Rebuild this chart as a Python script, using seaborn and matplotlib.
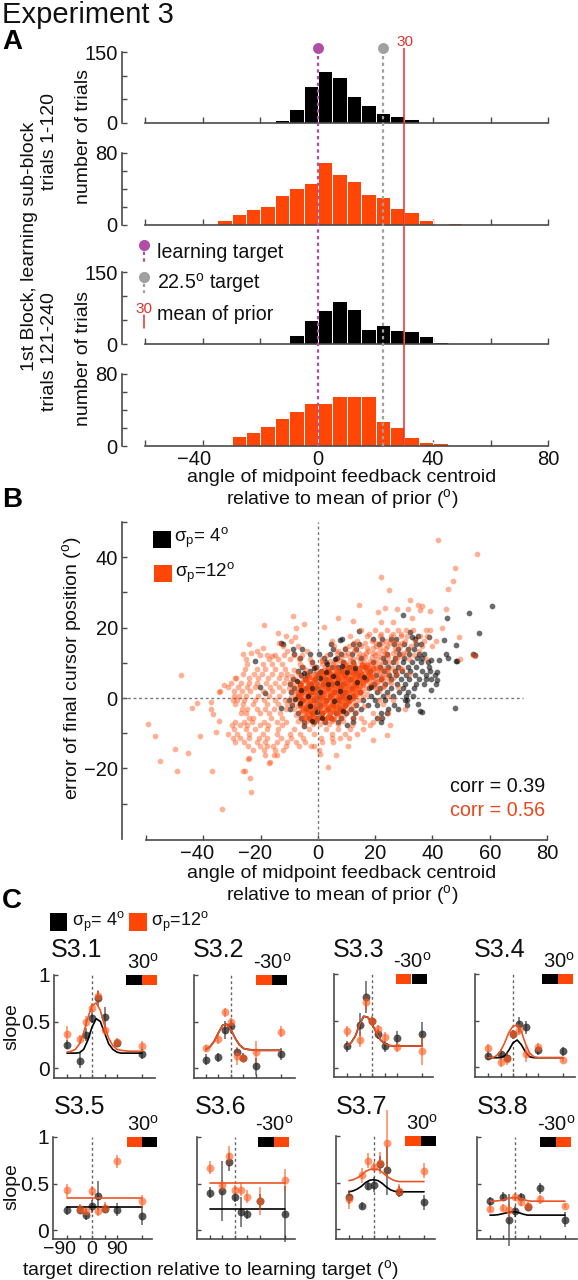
import matplotlib
matplotlib.use("Agg")
import matplotlib.pyplot as plt
from matplotlib.patches import Rectangle
from matplotlib.transforms import ScaledTranslation
import numpy as np
import pandas as pd
import seaborn as sns

sns.set_theme(style="ticks")
plt.rcParams["font.family"] = ["Liberation Sans", "DejaVu Sans"]
plt.rcParams["mathtext.fontset"] = "custom"
plt.rcParams["mathtext.rm"] = "Liberation Sans"
plt.rcParams["mathtext.default"] = "rm"
plt.rcParams["axes.unicode_minus"] = True

W, H = 578, 1280
BLACK = "#000000"
ORANGE = "#ff4606"
LINE_OR = "#ea5424"
RED = "#e2322c"
PURPLE = "#b04ea6"
GRAY = "#a0a0a0"
AXC = "#4a4a4a"

# ---------- Panel A histograms ----------
BIN_EDGES = list(range(-60, 85, 5))
A1_BINS = [-15, -10, -5, 0, 5, 10, 15, 20, 25, 30]
A1_COUNTS = [7, 29, 78, 110, 98, 58, 38, 21, 15, 8]
A2_BINS = [-40, -35, -30, -25, -20, -15, -10, -5, 0, 5, 10, 15, 20, 25, 30, 35, 45]
A2_COUNTS = [1.5, 6, 12, 18, 21, 33, 41, 47, 70, 57, 49, 34, 31, 19, 14, 6, 2]
A3_BINS = [-15, -10, -5, 0, 5, 10, 15, 20, 25, 30, 35, 40, 45]
A3_COUNTS = [1, 19, 50, 71, 90, 72, 32, 39, 30, 28, 17, 4, 3]
A4_BINS = [-60, -50, -45, -40, -35, -30, -25, -20, -15, -10, -5, 0, 5, 10, 15, 20, 25, 30, 35, 40]
A4_COUNTS = [1, 1.5, 1.5, 1.5, 1.5, 11.5, 16, 22, 31, 39, 48, 48, 56, 55, 55, 28, 21, 10, 4, 3.5]
LEARNING_TARGET = 0
GRAY_TARGET = 22.5
PRIOR_MEAN = 30

ORANGE_TAIL = [(42,45),(55.5,41),(48,37),(47.3,33.3),(45.6,31),(22.2,34.4),(24.9,30.6),(14.4,26.4),(32,27.8),(35,26.5),
 (36.3,26.2),(31.6,25.4),(27.5,25.4),(23.5,25.6),(21,24.5),(35.7,24.9),(39,24.6),(44.6,25.4),(32.8,22.6),(7.2,22.6),
 (12.4,21.8),(22,21.6),(26.4,21.6),(-8.7,23.2),(-4.8,21.1),(-18.8,20.8),(-7.8,20),(2.2,20.2),(-13.8,18.6),(-8,17.3),
 (-24.2,15.3),(-19,14.2),(-13.7,15.7),(-26.3,12.5),(-23.3,12.8),(-20.3,12.3),(-16,12),(-47.7,6.4),(-29,5.7),(-32.7,3.7),
 (-34.4,1.7),(-59.4,-7.4),(-56.9,-10.8),(-49.8,-14.4),(-45.5,-15.6),(-55,-17.9),(-49.2,-20.7),(-36.9,-20.6),(-33.4,-31.5),
 (-23.3,-26.8),(-23.6,-22.7),(-26.2,-20.8),(-25.6,-20.6),(-24.4,-17.3),(-23.9,-17.1),(-16.9,-18.5),(-16.6,-18.3),(3.4,-19.7),(0.8,-15.8),(10.5,-13.7),
 (19.1,-12),(24,-10.6),(-1.5,-13.7),(-41,-10.8),(-35.7,-9.6),(-34.4,-6.4),(-44,-2.7),(-42.2,-1.3),(-37.4,-1.2),
 (-37.4,-3.1),(-36.7,-4.6),(49.2,17.3),(43.3,19.9),(49.7,11.2),(54.3,12.3),(55,12)]
OR_MID_Y = [19.4, 17.6, 16.2, 14.7, 13.3, 12.1, 11.0, -8.9, -10.2, -11.3, -12.4, -13.6, -14.8, -16.2]
OR_MID_X = [
 [15.2, 19.8, 24.1, 27.9, 30.8, 33.3, 37.9, 39.1],
 [-11.2, 11.3, 17.1, 21.6, 25.4, 28.9, 31.2, 35.6, 38.2],
 [-9.3, 4.8, 13.6, 18.8, 23.7, 26.2, 30.4, 33.8, 37.1, 41.2],
 [-12.1, -6.8, 5.6, 10.8, 15.2, 20.4, 24.3, 28.8, 32.6, 36.2, 39.8],
 [-21.4, -10.8, -3.9, 7.2, 12.6, 17.4, 22.8, 27.4, 31.1, 35.2],
 [-17.8, -15.1, -11.9, -8.4, -5.7, 3.2, 9.6, 15.6, 19.8, 24.1, 29.6, 33.4],
 [-25.2, -17.1, -13.8, -9.9, -6.6, -2.9, 1.4, 6.2, 12.2, 20.6, 26.8, 31.8, 37.6],
 [-29.2, -25.1, -21.8, -17.6, -13.9, -8.2, -3.2, 2.8, 7.1, 11.3, 15.7],
 [-31.3, -28.4, -23.9, -19.2, -14.4, -9.8, -6.2, -1.2, 5.1, 9.4, 13.8],
 [-29.8, -27.1, -24.2, -20.6, -17.9, -12.7, -9.3, -5.1, 1.1, 5.1, 7.6, 10.8],
 [-28.9, -25.8, -21.1, -18.4, -14.1, -10.9, -7.8, -4.4, 1.6, 5.2],
 [-24.4, -20.2, -17.8, -15.6, -11.2, -6.6, -2.3],
 [-22.6, -18.8, -15.1, -12.2, 0.4],
 [-18.4, -15.2, -14.4, 6.2],
]
OR_WING_Y = [9.6, 8.1, 6.9, 5.6, 4.4, 3.1, 1.9, 0.6, -0.7, -1.8, -3.1, -4.3, -5.6, -6.7, -7.8]
OR_WING_X = [
 [-24.9, -19.2, -15.9, -12.4],
 [-25.3, -21.2, -18.3, -14.8, -11.4, 24.2, 29.2],
 [-26.2, -22.4, -19.6, -16.1, -12.9, -10.8, 23.8, 27.6, 31.9],
 [-28.6, -24.1, -20.8, -17.4, -13.6, -11.1, 22.4, 26.2],
 [-30.2, -26.7, -23.9, -21.2, -18.2, -14.9, -11.9, 25.4],
 [-31.4, -27.8, -24.8, -22.1, -16.8, -13.4, 22.8, 28.1],
 [-34.1, -29.2, -26.6, -23.7, -19.2, -15.9, -12.1, 21.4],
 [-29.4, -27.4, -25.1, -20.9, -17.2, -13.4, 24.6],
 [-29.8, -28.2, -25.8, -21.8, -18.8, -15.1, -11.6, 21.2, 26.1],
 [-28.8, -26.2, -22.6, -17.9, -13.9, -10.8, 22.9],
 [-26.4, -24.9, -21.4, -18.6, -15.4, -11.2, 30.4],
 [-26.9, -25.2, -20.1, -16.9, -13.1, 19.4, 24.4],
 [-24.2, -22.7, -16.4, -12.6, 14.9, 21.2],
 [-29.1, -25.9, -23.1, -18.8, -14.4, -11.2, 16.2, 19.2],
 [-30.1, -27.2, -24.6, -20.1, -17.3, -12.4, 11.8, 18.2, 25.2],
]
# orange points that lie over the black cloud, upper right of the centre
OR_RIGHT_Y = [18.2, 15.6, 14.2, 12.8, 11.6, 10.2, 8.6, 7.4, 6.1, 4.8, 3.4]
OR_RIGHT_X = [
 [17.8, 22.2, 26.4, 29.1],
 [12.6, 16.4, 20.2, 22.4, 25.1, 27.6, 29.4],
 [9.4, 13.1, 17.2, 19.4, 21.8, 23.9, 26.8],
 [6.8, 10.6, 14.4, 16.9, 19.1, 21.1, 23.4, 26.1, 29.8],
 [8.2, 11.1, 13.9, 16.6, 18.8, 21.9, 24.6, 28.1],
 [5.9, 9.2, 16.1, 19.6, 22.6, 24.9, 27.2],
 [19.9, 21.6, 23.4, 25.8, 28.6],
 [20.4, 22.1, 24.4, 26.9],
 [19.2, 21.9, 23.9],
 [19.4, 20.9, 22.6, 24.8],
 [18.1, 20.2, 23.1],
]
OR_CORE_Y = [10.6, 9.7, 8.9, 8.0, 7.2, 6.3, 5.5, 4.6, 3.8, 2.9, 2.1, 1.2, 0.4, -0.5, -1.3, -2.2, -3.0, -3.9, -4.7, -5.6, -6.5, -7.4]
OR_CORE_X = [
 [1.4, 4.1, 7.8, 11.2, 14.6, 18.1],
 [-6.1, -2.2, 1.6, 5.3, 8.8, 12.1, 15.4, 18.6, 21.4],
 [-5.2, -1.1, 2.6, 5.9, 9.4, 11.8, 14.9, 17.6, 20.3],
 [-8.4, -4.1, -0.8, 2.2, 4.8, 7.6, 10.3, 12.9, 15.8, 18.2, 21.2],
 [-7.1, -3.3, 0.4, 3.1, 5.9, 8.4, 10.9, 13.6, 16.4, 19.1],
 [-9.2, -5.8, -2.6, 0.9, 3.6, 6.2, 8.8, 11.4, 13.8, 16.2, 18.9, 22.1],
 [-8.1, -4.9, -1.8, 1.2, 4.2, 6.9, 9.3, 12.1, 14.4, 17.1, 19.8],
 [-9.8, -6.9, -3.9, -0.9, 2.1, 4.6, 7.4, 9.9, 12.6, 15.2, 17.8, 20.6],
 [-8.8, -5.9, -2.9, 0.1, 2.9, 5.4, 8.1, 10.6, 13.2, 15.9, 18.6],
 [-10.2, -7.4, -4.4, -1.6, 1.1, 3.7, 6.2, 8.9, 11.4, 14.1, 16.8, 19.9],
 [-9.1, -6.2, -3.4, -0.6, 2.4, 4.9, 7.5, 10.1, 12.8, 15.4],
 [-8.1, -5.1, -2.4, 0.3, 3.1, 5.8, 8.4, 11.2, 13.9, 17.1],
 [-9.4, -6.6, -3.8, -1.1, 1.6, 4.3, 6.9, 9.6, 12.3, 15.6],
 [-7.9, -4.9, -2.1, 0.8, 3.4, 6.1, 8.8, 11.3, 14.2],
 [-8.9, -6.1, -3.1, -0.2, 2.6, 5.2, 7.9, 10.4, 13.1],
 [-7.1, -4.2, -1.4, 1.4, 4.2, 6.8, 9.3, 12.2, 16.1],
 [-8.2, -5.4, -2.6, 0.3, 3.2, 5.9, 8.6, 11.1],
 [-6.4, -3.6, -0.9, 1.9, 4.8, 7.4, 10.1, 13.4],
 [-7.6, -4.7, -1.9, 1.1, 3.9, 6.6, 9.1],
 [-5.6, -2.8, 0.2, 3.1, 5.8, 8.2, 12.2],
 [-6.8, -3.9, -1.1, 2.1, 4.9, 8.6],
 [-4.9, -1.8, 0.9, 3.9, 7.1],
]
# tightly packed centre of the orange cloud
OR_DENSE_Y = [9.4, 8.4, 7.5, 6.7, 5.9, 5.0, 4.2, 3.3, 2.5, 1.6, 0.8, -0.1, -0.9, -1.8, -2.6, -3.5, -4.4, -5.3, -6.1]
OR_DENSE_X = [
 [9.8, 12.6, 15.3, 17.2],
 [3.4, 6.4, 9.1, 11.7, 14.2, 16.8, 19.1],
 [1.1, 3.9, 6.6, 9.2, 11.9, 14.8, 17.4],
 [-0.9, 1.7, 4.4, 7.1, 9.6, 12.2, 14.9, 17.7],
 [-3.1, -0.4, 2.3, 5.1, 7.7, 10.1, 12.8, 15.4, 18.1],
 [-4.2, -1.4, 1.4, 3.9, 6.4, 9.1, 11.6, 14.3, 16.6],
 [-5.9, -3.1, -0.3, 2.6, 5.2, 7.9, 10.4, 13.1, 15.9],
 [-6.4, -3.6, -1.1, 1.6, 4.3, 7.1, 9.5, 12.2, 14.8],
 [-5.4, -2.7, 0.1, 2.9, 5.6, 8.2, 10.7, 13.4],
 [-6.8, -4.1, -1.4, 1.4, 4.2, 6.8, 9.3, 11.9, 14.7],
 [-5.9, -3.2, -0.4, 2.3, 5.1, 7.7, 10.2, 12.8],
 [-6.6, -3.9, -1.2, 1.6, 4.2, 6.9, 9.4, 12.1],
 [-5.2, -2.4, 0.3, 2.9, 5.6, 8.3, 10.9],
 [-6.1, -3.3, -0.6, 2.1, 4.8, 7.4, 9.9],
 [-4.6, -1.9, 0.9, 3.6, 6.2, 8.8],
 [-5.3, -2.6, 0.2, 2.8, 5.4, 8.1],
 [-3.9, -1.2, 1.6, 4.3, 6.9],
 [-4.6, -1.8, 1.1, 3.7],
 [-2.9, -0.4, 2.4, 5.2],
]
BLACK_TAIL = [(60.7,26),(52.9,24.2),(56.2,18.5),(45.2,22.6),(44.1,16.4),(48.3,15.1),(44.8,12.6),(45.6,11.4),(48.7,10.6),
 (48.2,10.5),(54,12.4),(54.9,12.1),(47.8,-2.7),(29.7,23.7),(14.5,18.9),(8.4,16.9),(7.8,16.5),(-12.8,15.6),(-12.2,15.4),(-21.9,10.5),
 (-20.3,3.1),(-18.6,1.5),(-12.8,-2.7),(-4.7,-8),(10.3,-7.8),(35.7,-3.8),(36.4,-4),(35,-1.6),(39.5,2.4),(41.5,7.4),(41.7,5),
 (42.3,10.7),(39.5,10.9),(38.7,17.3),(35,17.5),(32.2,18.8),(33,17.2)]
BK_Y = [16.8, 15.2, 13.9, 12.6, 11.3, 10.1, 8.9, 7.7, 6.5, 5.3, 4.1, 2.9, 1.7, 0.5, -0.7, -1.9, -3.1, -4.3, -5.6, -6.9]
BK_X = [
 [19.2, 22.4, 25.6, 27.4, 33.9],
 [4.6, 12.2, 14.4, 21.3, 26.7, 30.1, 34.1, 36.1],
 [-8.6, -5.4, 5.2, 9.6, 13.4, 27.9, 31.4, 33.7],
 [-8.2, -2.9, 0.4, 4.4, 8.1, 11.8, 24.1, 28.2, 31.9, 35.4, 37.1],
 [-6.1, 2.2, 6.6, 15.1, 22.6, 27.1, 30.2, 34.6, 36.4],
 [-1.9, 2.9, 8.9, 12.4, 19.2, 23.4, 26.2, 29.6, 32.8, 35.9, 38.4],
 [-5.4, -0.6, 4.8, 7.2, 10.8, 16.4, 21.8, 24.6, 28.1, 31.4, 34.2, 38.9],
 [-6.9, -2.8, 1.2, 3.6, 8.2, 12.9, 18.2, 23.1, 26.8, 29.4, 32.1, 36.2, 39.2],
 [-5.9, -3.9, 0.1, 5.9, 9.4, 14.2, 20.4, 24.9, 27.4, 30.8, 33.9, 37.8, 40.8],
 [-8.6, -4.6, -1.1, 2.8, 6.9, 11.2, 16.9, 22.2, 25.6, 29.1, 31.9, 35.2, 37.6, 39.4],
 [-9.9, -6.4, -2.4, 1.9, 5.1, 8.9, 13.4, 19.6, 23.4, 27.8, 30.4, 34.1, 36.9, 41.2],
 [-8.2, -4.2, -0.4, 3.4, 7.6, 11.9, 17.8, 21.8, 25.4, 29.6, 33.4],
 [-9.4, -5.9, -2.1, 1.1, 5.8, 9.4, 14.6, 20.8, 24.2, 28.4, 31.6],
 [-7.1, -3.4, 0.4, 4.4, 8.4, 12.2, 18.4, 22.6, 26.1, 30.6, 33.2],
 [-10.2, -5.4, -1.2, 2.9, 7.1, 10.6, 15.9, 19.9, 23.4, 31.2, 30.4],
 [-8.9, -6.4, -2.6, 0.8, 5.4, 9.6, 13.4, 17.4, 20.6, 26.6, 31.1],
 [-9.6, -4.1, -0.6, 3.6, 7.9, 11.4, 15.2, 24.4, 27.9],
 [-6.9, -2.1, 1.4, 6.2, 9.9, 13.1, 21.9, 24.1],
 [-5.8, -3.1, -0.4, 4.6, 8.2, 12.2, 20.6, 22.4],
 [-4.9, -1.4, 2.6, 6.9, 12.4, 22.2],
]
# dark points that show through on top of the orange centre
FLECK_PTS = [(3.2,9.8),(6.1,11.2),(8.4,9.1),(-4.8,7.1),(-1.2,8.4),(2.8,7.4),(5.4,6.2),(-7.4,4.9),(0.6,5.6),(3.4,3.9),
 (-5.8,2.2),(-2.1,2.9),(-3.4,0.6),(6.8,4.4),(10.2,7.3),(12.8,8.6),(0.9,1.6),(-6.2,-1.4),(-2.6,-2.4),(-0.4,-4.1),
 (1.6,-5.8),(7.9,2.1),(5.6,-0.9),(10.8,0.4),(13.6,4.6),(16.2,5.9),(18.4,3.2),(8.9,-3.6),(-8.1,-0.4),(-1.9,-6.4)]

# ---------- Panel C slopes ----------
DIRECTIONS = [-90, -45, -22.5, 0, 22.5, 45, 90, 180]
CURVE_X = [-90, -75, -60, -45, -30, -15, 0, 15, 30, 45, 60, 75, 90, 105, 120, 135, 150, 165, 180]
FLAT_X = [-90, 180]

S31_OR = [.37, .31, .50, .65, .77, .41, .275, .24]
S31_OR_E = [.08, .05, .06, .05, .07, .05, .05, .05]
S31_BK = [.25, .08, .36, .54, .75, .55, .27, .15]
S31_BK_E = [.05, .08, .07, .06, .08, .11, .04, .05]
S31_OR_C = [.17, .18, .20, .26, .38, .54, .67, .70, .62, .46, .32, .24, .20, .19, .185, .18, .18, .18, .18]
S31_BK_C = [.16, .16, .16, .165, .20, .30, .44, .53, .50, .38, .26, .20, .17, .16, .16, .16, .16, .16, .16]

S32_OR = [.21, .31, .60, .50, .13, .11, .17, .39]
S32_OR_E = [.04, .05, .05, .04, .10, .05, .12, .06]
S32_BK = [.09, .115, .41, .45, .17, .11, .02, .15]
S32_BK_E = [.06, .05, .10, .07, .04, .05, .09, .06]
S32_OR_C = [.20, .23, .29, .38, .46, .47, .41, .32, .25, .21, .20, .195, .19, .19, .19, .19, .19, .19, .19]
S32_BK_C = S32_OR_C

S33_OR = [.39, .30, .70, .50, .42, .33, .22, .18]
S33_OR_E = [.06, .08, .08, .05, .04, .05, .05, .15]
S33_BK = [.23, .46, .76, .50, .36, .23, .32, .36]
S33_BK_E = [.06, .12, .17, .04, .05, .06, .07, .13]
S33_OR_C = [.24, .27, .34, .46, .55, .54, .47, .38, .30, .26, .24, .235, .235, .235, .235, .235, .235, .235, .235]
S33_BK_C = S33_OR_C

S34_OR = [.20, .05, .09, .35, .40, .14, .21, .08]
S34_OR_E = [.05, .05, .07, .05, .06, .09, .05, .03]
S34_BK = [.12, .14, .10, .35, .46, .43, .18, .17]
S34_BK_E = [.05, .05, .05, .05, .08, .07, .05, .05]
S34_OR_C = [.10, .10, .12, .17, .26, .37, .44, .45, .38, .25, .15, .11, .10, .10, .10, .10, .10, .10, .10]
S34_BK_C = [.10, .10, .10, .10, .12, .18, .26, .29, .24, .16, .11, .10, .10, .10, .10, .10, .10, .10, .10]

S35_OR = [.43, .225, .20, .42, .20, .24, .74, .31]
S35_OR_E = [.07, .05, .04, .05, .05, .06, .07, .07]
S35_BK = [.21, .22, .165, .255, .37, .23, .22, .15]
S35_BK_E = [.05, .05, .06, .07, .16, .05, .07, .10]
S35_OR_C = [.34, .34]
S35_BK_C = [.245, .245]

S36_OR = [.67, .48, .80, .435, .435, .36, .31, .535]
S36_OR_E = [.07, .06, .10, .05, .07, .07, .15, .12]
S36_BK = [.40, .42, .73, .35, .19, .17, .31, .17]
S36_BK_E = [.06, .32, .10, .05, .16, .05, .08, .30]
S36_OR_C = [.505, .505]
S36_BK_C = [.23, .23]

S37_OR = [.32, .58, .735, .67, .71, .92, .41, .625]
S37_OR_E = [.10, .08, .08, .05, .12, .36, .07, .08]
S37_BK = [.34, .25, .465, .475, .70, .63, .40, .285]
S37_BK_E = [.07, .04, .05, .08, .08, .26, .06, .08]
S37_OR_C = [.52, .53, .55, .58, .62, .64, .645, .64, .61, .57, .54, .52, .51, .51, .51, .51, .51, .51, .51]
S37_BK_C = [.40, .41, .43, .46, .50, .525, .53, .52, .49, .45, .42, .405, .40, .40, .40, .40, .40, .40, .40]

S38_OR = [.23, .24, .21, .36, .30, .26, .33, .26]
S38_OR_E = [.04, .04, .08, .04, .04, .04, .05, .02]
S38_BK = [.31, .36, .11, .20, .36, .25, .45, .11]
S38_BK_E = [.05, .05, .28, .06, .04, .04, .06, .08]
S38_OR_C = [.31, .31, .315, .32, .335, .345, .35, .345, .33, .315, .31, .31, .31, .31, .31, .31, .31, .31, .31]
S38_BK_C = [.16, .16, .165, .175, .185, .195, .195, .185, .17, .16, .16, .16, .16, .16, .16, .16, .16, .16, .16]


def rows_to_pairs(ys, xs_rows):
    return [(x, y) for y, xs in zip(ys, xs_rows) for x in xs]


fig = plt.figure(figsize=(W / 100, H / 100), dpi=100, facecolor="white")


def fx(x):
    return x / W


def fy(y):
    return 1 - y / H


def px_axes(left, right, top, bottom, **kw):
    ax = fig.add_axes([fx(left), fy(bottom), (right - left) / W, (bottom - top) / H], **kw)
    ax.patch.set_alpha(0)
    return ax


def text(x, y, s, size=14, ha="left", va="center", **kw):
    return fig.text(fx(x), fy(y), s, fontsize=size, ha=ha, va=va, color=kw.pop("color", "#111111"), **kw)


def rect(x0, x1, y0, y1, color):
    fig.add_artist(Rectangle((fx(x0), fy(y1)), (x1 - x0) / W, (y1 - y0) / H, transform=fig.transFigure,
                             facecolor=color, edgecolor="none"))


def style(ax):
    for s in ("top", "right"):
        ax.spines[s].set_visible(False)
    for s in ("left", "bottom"):
        ax.spines[s].set_color(AXC)
        ax.spines[s].set_linewidth(1.2)
    ax.tick_params(direction="in", color=AXC, width=1.0, length=3.5, pad=3, labelsize=14, labelcolor="#111111")
    ax.set_xlabel("")
    ax.set_ylabel("")


def shift_negative(ax, px):
    """The reference sets its negative tick labels a little left of their ticks."""
    off = ScaledTranslation(-px / 100, 0, fig.dpi_scale_trans)
    for lab in ax.get_xticklabels():
        if lab.get_text().startswith("\u2212"):
            lab.set_transform(lab.get_transform() + off)


# ---------- Panel A ----------
PX_PER_UNIT = (549 - 146) / 140
A_LEFT, A_RIGHT = 122, 549
XLIM_A = ((A_LEFT - 318) / PX_PER_UNIT, (A_RIGHT - 318) / PX_PER_UNIT)
HISTS = [
    (A1_BINS, A1_COUNTS, BLACK, 52, 123, [0, 50, 100, 150], 150, False),
    (A2_BINS, A2_COUNTS, ORANGE, 153, 225, [0, 20, 40, 60, 80], 80, False),
    (A3_BINS, A3_COUNTS, BLACK, 272, 344, [0, 50, 100, 150], 150, False),
    (A4_BINS, A4_COUNTS, ORANGE, 374, 446, [0, 20, 40, 60, 80], 80, True),
]
for bins, counts, col, top, bot, yt, ymax, labelled in HISTS:
    ax = px_axes(A_LEFT, A_RIGHT, top, bot)
    sns.histplot(x=bins, weights=counts, bins=BIN_EDGES, color=col, alpha=1, edgecolor="white", linewidth=0.7, ax=ax)
    ax.set_xlim(*XLIM_A)
    ax.set_ylim(0, ymax)
    style(ax)
    ax.spines["bottom"].set_bounds(-60, 80)
    ax.set_yticks(yt)
    ax.set_yticklabels([str(v) if v in (0, ymax) else "" for v in yt], fontsize=14.5)
    ax.tick_params(axis="y", pad=3)
    ax.set_xticks(range(-60, 100, 20))
    ax.tick_params(axis="x", length=4, direction="in", pad=3)
    if labelled:
        ax.set_xticklabels(["", "\u221240", "", "0", "", "40", "", "80"], fontsize=14.5)
        shift_negative(ax, 9)
    else:
        ax.set_xticklabels([])

ov = px_axes(A_LEFT, A_RIGHT, 48, 446)
ov.set_xlim(*XLIM_A)
ov.set_ylim(0, 1)
ov.axis("off")
ov.axvline(LEARNING_TARGET, color=PURPLE, ls=(0, (1.5, 1.5)), lw=1.6)
ov.axvline(GRAY_TARGET, color=GRAY, ls=(0, (1.5, 1.5)), lw=1.6)
ov.axvline(PRIOR_MEAN, color=RED, lw=1.1)
sns.scatterplot(x=[LEARNING_TARGET], y=[1], color=PURPLE, s=62, linewidth=0, ax=ov, clip_on=False, zorder=5)
sns.scatterplot(x=[GRAY_TARGET], y=[1], color=GRAY, s=62, linewidth=0, ax=ov, clip_on=False, zorder=5)
ov.set_xlabel("")
ov.set_ylabel("")
text(405, 42, "30", size=11, ha="center", color=RED)

# legend of panel A
lg = px_axes(0, W, 0, H)
lg.set_xlim(0, W)
lg.set_ylim(H, 0)
lg.axis("off")
lg.plot([144, 144], [245, 265], color=PURPLE, ls=(0, (1.5, 1.5)), lw=1.6)
lg.plot([144, 144], [277, 293], color=GRAY, ls=(0, (1.5, 1.5)), lw=1.6)
lg.plot([144, 144], [315, 328], color=RED, lw=1.1)
lg.plot([144], [245], "o", color=PURPLE, ms=8, mew=0)
lg.plot([144], [277], "o", color=GRAY, ms=8, mew=0)
text(144, 309, "30", size=11, ha="center", color=RED)
text(157, 252, "learning target", size=14.1)
text(157, 283, "22.5$^{\\mathrm{o}}$ target", size=14.1)
text(157, 315, "mean of prior", size=14.1)

text(2, 15, "Experiment 3", size=21)
text(2, 42, "A", size=20, fontweight="bold", color="black")
text(2, 500, "B", size=20, fontweight="bold", color="black")
text(2, 901, "C", size=20, fontweight="bold", color="black")

text(30, 246, "1st Block, learning sub-block", size=14, rotation=90, ha="center")
text(50, 142, "trials 1-120", size=14, rotation=90, ha="center")
text(50, 352, "trials 121-240", size=14, rotation=90, ha="center")
text(83, 136, "number of trials", size=14, rotation=90, ha="center")
text(83, 359, "number of trials", size=14, rotation=90, ha="center")
text(342, 477, "angle of midpoint feedback centroid", size=14, ha="center")
text(342, 499, "relative to mean of prior ($^{\\mathrm{o}}$)", size=14, ha="center")

# ---------- Panel B ----------
orange_pts = ORANGE_TAIL + rows_to_pairs(OR_MID_Y, OR_MID_X) + rows_to_pairs(OR_WING_Y, OR_WING_X) \
    + rows_to_pairs(OR_CORE_Y, OR_CORE_X) + rows_to_pairs(OR_RIGHT_Y, OR_RIGHT_X)
black_pts = BLACK_TAIL + rows_to_pairs(BK_Y, BK_X)
df_o = pd.DataFrame(orange_pts, columns=["x", "y"])
df_d = pd.DataFrame(rows_to_pairs(OR_DENSE_Y, OR_DENSE_X), columns=["x", "y"])
df_b = pd.DataFrame(black_pts, columns=["x", "y"])
df_f = pd.DataFrame(FLECK_PTS, columns=["x", "y"])

axb = px_axes(122, 547, 522, 840)
axb.set_xlim((122 - 318) / 2.866, (547 - 318) / 2.866)
axb.set_ylim((698 - 840) / 3.52, (698 - 522) / 3.52)
sns.scatterplot(data=df_b, x="x", y="y", color="#111111", alpha=0.62, s=17, linewidth=0, ax=axb, zorder=2)
sns.scatterplot(data=df_o, x="x", y="y", color=ORANGE, alpha=0.42, s=17, linewidth=0, ax=axb, zorder=3)
sns.scatterplot(data=df_d, x="x", y="y", color=ORANGE, alpha=0.72, s=19, linewidth=0, ax=axb, zorder=3.1)
sns.scatterplot(data=df_f, x="x", y="y", color="#221008", alpha=0.7, s=15, linewidth=0, ax=axb, zorder=3.2)
axb.axhline(0, xmax=(523 - 122) / (547 - 122), color="#777777", ls=(0, (2, 2)), lw=1.0, zorder=1)
axb.axvline(0, color="#777777", ls=(0, (2, 2)), lw=1.0, zorder=4)
style(axb)
axb.spines["left"].set_bounds(-40, 50)
axb.spines["bottom"].set_bounds(-60, 80)
axb.set_xticks(range(-60, 100, 20))
axb.set_xticklabels(["", "\u221240", "\u221220", "0", "20", "40", "60", "80"], fontsize=14.5)
axb.tick_params(axis="x", pad=3)
shift_negative(axb, 6)
axb.set_yticks(range(-30, 60, 10))
axb.set_yticklabels(["", "\u221220", "", "0", "", "20", "", "40", ""], fontsize=14.5)
text(72, 668, "error of final cursor position ($^{\\mathrm{o}}$)", size=14, rotation=90, ha="center")
text(342, 873, "angle of midpoint feedback centroid", size=14, ha="center")
text(342, 895, "relative to mean of prior ($^{\\mathrm{o}}$)", size=14, ha="center")
text(545, 787, "corr = 0.39", size=14.2, ha="right")
text(545, 810, "corr = 0.56", size=14.2, ha="right", color="#e8481f")
rect(153, 171, 531, 548, BLACK)
rect(154, 172, 565, 582, ORANGE)
text(174, 538, "$\\sigma_{p}$= 4$^{\\mathrm{o}}$", size=13.5)
text(175, 573, "$\\sigma_{p}$=12$^{\\mathrm{o}}$", size=13.5)

# ---------- Panel C ----------
rect(50, 67, 913, 931, BLACK)
rect(129, 147, 913, 931, ORANGE)
text(72, 922, "$\\sigma_{p}$= 4$^{\\mathrm{o}}$", size=13)
text(151, 922, "$\\sigma_{p}$=12$^{\\mathrm{o}}$", size=13)

PANELS = [
    ("S3.1", 54, 155, 92, 975, 1068, 1078, S31_OR, S31_OR_E, S31_BK, S31_BK_E, CURVE_X, S31_OR_C, S31_BK_C, "30", 126, 157, (BLACK, ORANGE), 51, 950),
    ("S3.2", 194, 295, 231, 975, 1068, 1078, S32_OR, S32_OR_E, S32_BK, S32_BK_E, CURVE_X, S32_OR_C, S32_BK_C, "-30", 256, 287, (ORANGE, BLACK), 193, 950),
    ("S3.3", 334, 433, 372, 974, 1068, 1077, S33_OR, S33_OR_E, S33_BK, S33_BK_E, CURVE_X, S33_OR_C, S33_BK_C, "-30", 396, 427, (ORANGE, BLACK), 333, 950),
    ("S3.4", 475, 575, 513, 974, 1067, 1077, S34_OR, S34_OR_E, S34_BK, S34_BK_E, CURVE_X, S34_OR_C, S34_BK_C, "30", 542, 573, (BLACK, ORANGE), 474, 950),
    ("S3.5", 53, 152, 92, 1137, 1230, 1239, S35_OR, S35_OR_E, S35_BK, S35_BK_E, FLAT_X, S35_OR_C, S35_BK_C, "30", 127, 157, (ORANGE, BLACK), 54, 1107),
    ("S3.6", 197, 295, 235, 1137, 1230, 1239, S36_OR, S36_OR_E, S36_BK, S36_BK_E, FLAT_X, S36_OR_C, S36_BK_C, "-30", 258, 289, (BLACK, ORANGE), 195, 1107),
    ("S3.7", 336, 435, 374, 1136, 1229, 1239, S37_OR, S37_OR_E, S37_BK, S37_BK_E, CURVE_X, S37_OR_C, S37_BK_C, "30", 405, 436, (ORANGE, BLACK), 336, 1107),
    ("S3.8", 477, 577, 515, 1137, 1230, 1239, S38_OR, S38_OR_E, S38_BK, S38_BK_E, CURVE_X, S38_OR_C, S38_BK_C, "-30", 540, 571, (BLACK, ORANGE), 477, 1107),
]
DEG_PX = 25 / 90
for i, (name, left, right, x0, y1, y0, bot, o, oe, b, be, cx, oc, bc, lab, rl, rr, cols, tx, ty) in enumerate(PANELS):
    ax = px_axes(left, right, y1, bot)
    ax.set_xlim((left - x0) / DEG_PX, (right - x0) / DEG_PX)
    ax.set_ylim((y0 - bot) / (y0 - y1), 1)
    ax.axvline(0, color="#666666", ls=(0, (2, 2)), lw=1.0, zorder=1)
    ax.errorbar(DIRECTIONS, b, yerr=be, fmt="none", ecolor="#222222", alpha=0.65, elinewidth=1.2, clip_on=False, zorder=2)
    sns.scatterplot(x=DIRECTIONS, y=b, color="#222222", alpha=0.75, s=32, linewidth=0, ax=ax, clip_on=False, zorder=3)
    sns.lineplot(x=cx, y=bc, color="black", lw=1.2, ax=ax, zorder=4, errorbar=None)
    ax.errorbar(DIRECTIONS, o, yerr=oe, fmt="none", ecolor=ORANGE, alpha=0.6, elinewidth=1.2, clip_on=False, zorder=5)
    sns.scatterplot(x=DIRECTIONS, y=o, color="#ff5a1e", alpha=0.62, s=32, linewidth=0, ax=ax, clip_on=False, zorder=6)
    sns.lineplot(x=cx, y=oc, color=LINE_OR, lw=1.2, ax=ax, zorder=7, errorbar=None)
    style(ax)
    ax.spines["left"].set_bounds(ax.get_ylim()[0], 1)
    ax.set_xticks([-90, -45, 0, 45, 90, 180])
    ax.set_yticks([0, 0.5, 1])
    ax.tick_params(length=3)
    ax.set_yticklabels(["0", "0.5", "1"] if left < 60 else [], fontsize=15)
    if name == "S3.5":
        ax.set_xticklabels(["\u221290", "", "0", "", "90", ""], fontsize=14)
        ax.tick_params(axis="x", pad=1.5)
        shift_negative(ax, 8)
    else:
        ax.set_xticklabels([])
    text(tx, ty, name, size=18)
    rm = (rl + rr) / 2
    rect(rl, rm, y1, y1 + 10, cols[0])
    rect(rm, rr, y1, y1 + 10, cols[1])
    text(rm + 1, y1 - 12, lab + "$^{\\mathrm{o}}$", size=14.5, ha="center")

text(12, 1027, "slope", size=14, rotation=90, ha="center")
text(12, 1187, "slope", size=14, rotation=90, ha="center")
text(22, 1270, "target direction relative to learning target ($^{\\mathrm{o}}$)", size=14)

fig.savefig("out.png", dpi=100)
